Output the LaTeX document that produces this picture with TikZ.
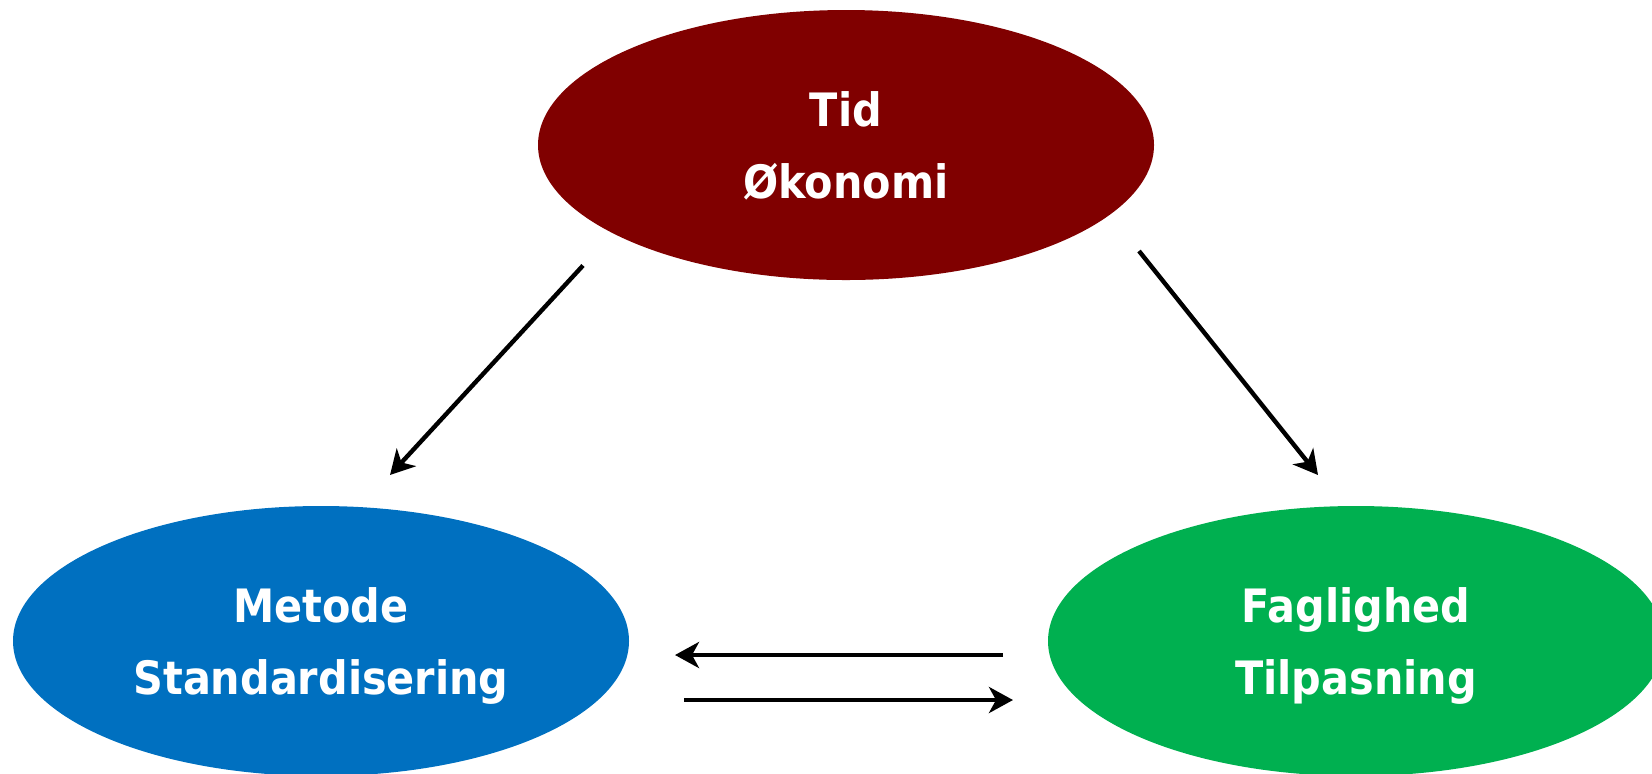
\documentclass[tikz,border=0pt]{standalone}
\usepackage{fontspec}
\newfontfamily\boblefont{DejaVu Sans Condensed}
\usetikzlibrary{arrows.meta,shapes.geometric}
\definecolor{tidrod}{RGB}{128,0,0}
\definecolor{metodeblaa}{RGB}{0,112,192}
\definecolor{faggron}{RGB}{0,176,80}
\tikzset{
    %Define standard arrow tip
    >={Stealth[length=12pt,width=13pt,inset=3.5pt]},
    %Define style for ellipses
    boble/.style={
           ellipse,
           draw=none,
           inner sep=0pt,
           outer sep=0pt,
           minimum width=308pt,
           minimum height=135pt,
           text=white,
           text depth=0pt,
           align=center,
           font=\boblefont\bfseries\fontsize{23}{36}\selectfont},
    % Define arrow style
    pil/.style={
           ->,
           line width=2.2pt}
}

\begin{document}
\begin{tikzpicture}[x=0.5pt,y=-0.5pt]
 \useasboundingbox (0,0) rectangle (1652,773);
 \clip (0,0) rectangle (1652,773);

 \node[boble, fill=tidrod] (tid) at (846,145) {Tid\\Økonomi};
 \node[boble, fill=metodeblaa] (metode) at (321,641) {Metode\\Standardisering};
 \node[boble, fill=faggron] (fag) at (1356,641) {Faglighed\\Tilpasning};

 \draw[pil] ([shift={(-263,120.5)}]tid.center) -- ([shift={(69,-166)}]metode.center);
 \draw[pil] ([shift={(293,106)}]tid.center) -- ([shift={(-38,-166)}]fag.center);
 \draw[pil, shorten <=22.5pt, shorten >=23pt]
   ([yshift=-7pt]fag.west) -- ([yshift=-7pt]metode.east);
 \draw[pil, shorten <=27.5pt, shorten >=17.5pt]
   ([yshift=-29.5pt]metode.east) -- ([yshift=-29.5pt]fag.west);
\end{tikzpicture}
\end{document}
